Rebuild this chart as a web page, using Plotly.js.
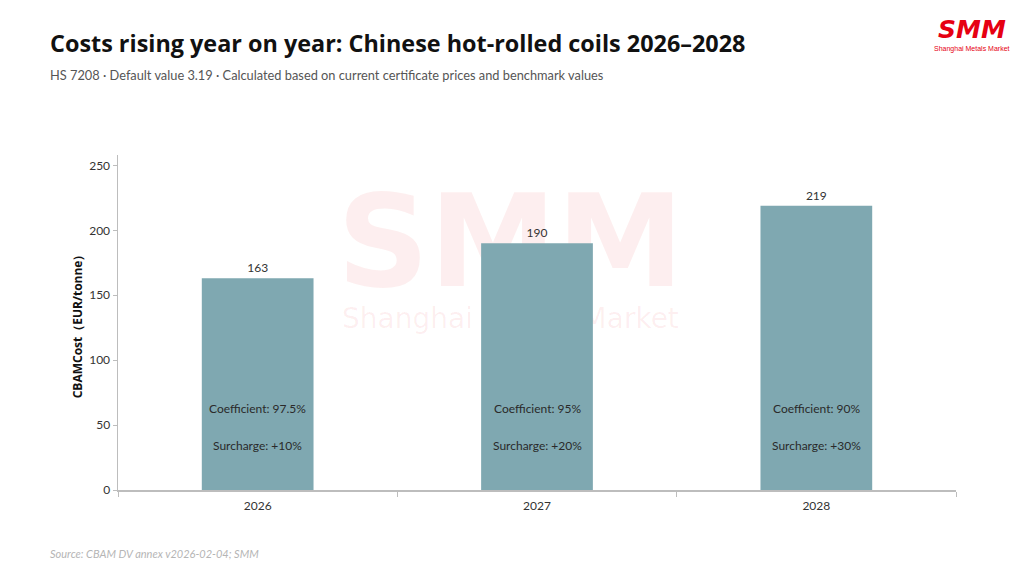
<!DOCTYPE html>
<html>
<head>
<meta charset="utf-8">
<script src="https://cdn.plot.ly/plotly-3.0.1.min.js"></script>
<style>
  html, body { margin: 0; padding: 0; background: #ffffff; }
  #chart { width: 1024px; height: 576px; }
</style>
</head>
<body>
<div id="chart"></div>
<script>
// ---- data ----
const years = ['2026', '2027', '2028'];
const cbamCost = [163, 190, 219];
const coefficientLabels = ['Coefficient: 97.5%', 'Coefficient: 95%', 'Coefficient: 90%'];
const surchargeLabels = ['Surcharge: +10%', 'Surcharge: +20%', 'Surcharge: +30%'];
const yTickValues = [0, 50, 100, 150, 200, 250];

const titleText = 'Costs rising year on year: Chinese hot-rolled coils 2026–2028';
const subtitleText = 'HS 7208 · Default value 3.19 · Calculated based on current certificate prices and benchmark values';
const sourceText = 'Source: CBAM DV annex v2026-02-04; SMM';
const yTitle = 'CBAMCost（EUR/tonne）';

const FONT = 'Lato, "Noto Sans", Roboto, sans-serif';
const BOLD_FONT = '"Open Sans", Roboto, sans-serif';
const BAR_COLOR = '#7fa8b1';
const AXIS_COLOR = '#bdbdbd';

const xIndex = years.map((_, i) => i);
const boundaries = [-0.5].concat(xIndex.map(i => i + 0.5));

// watermark (base subplot, so the bars in the overlay subplot sit on top of it)
const watermark = {
  type: 'scatter', mode: 'text', xaxis: 'x', yaxis: 'y',
  x: [0.905, 0.905], y: [0.705, 0.505],
  text: ['<b>SMM</b>', 'Shanghai Metals Market'],
  textfont: { family: '"DejaVu Sans", sans-serif', size: [128, 28], color: 'rgba(230,0,18,0.065)' },
  textposition: 'middle center', hoverinfo: 'skip', showlegend: false, cliponaxis: false
};

const bars = {
  type: 'bar', xaxis: 'x', yaxis: 'y2',
  x: xIndex, y: cbamCost,
  width: 0.4,
  marker: { color: BAR_COLOR, line: { width: 0 } },
  text: cbamCost.map(String),
  textposition: 'outside',
  textfont: { family: FONT, size: 12, color: '#333333' },
  cliponaxis: false,
  hoverinfo: 'y', showlegend: false
};

const annotations = [];
xIndex.forEach((xi, i) => {
  annotations.push({ xref: 'x', yref: 'y2', x: xi, y: 63, text: coefficientLabels[i], showarrow: false,
    font: { family: FONT, size: 12, color: '#2a2a2a' } });
  annotations.push({ xref: 'x', yref: 'y2', x: xi, y: 34, text: surchargeLabels[i], showarrow: false,
    font: { family: FONT, size: 12, color: '#2a2a2a' } });
});
// y-axis title
annotations.push({ xref: 'paper', yref: 'paper', x: -0.048, y: 0.497, xanchor: 'center', yanchor: 'middle',
  textangle: -90, text: '<b>' + yTitle + '</b>', showarrow: false,
  font: { family: BOLD_FONT, size: 12, color: '#111111' } });
// subtitle
annotations.push({ xref: 'paper', yref: 'paper', x: -0.0835, y: 1.238, xanchor: 'left', yanchor: 'middle',
  text: subtitleText, showarrow: false, font: { family: FONT, size: 12.8, color: '#555555' } });
// source
annotations.push({ xref: 'paper', yref: 'paper', x: -0.0835, y: -0.19, xanchor: 'left', yanchor: 'middle',
  text: '<i>' + sourceText + '</i>', showarrow: false, font: { family: FONT, size: 11, color: '#b5b5b5' } });
// logo
annotations.push({ xref: 'paper', yref: 'paper', x: 1.0195, y: 1.374, xanchor: 'center', yanchor: 'middle',
  text: '<b><i>SMM</i></b>', showarrow: false, font: { family: '"DejaVu Sans", sans-serif', size: 25, color: '#e60012' } });
annotations.push({ xref: 'paper', yref: 'paper', x: 1.0195, y: 1.315, xanchor: 'center', yanchor: 'middle',
  text: 'Shanghai Metals Market', showarrow: false, font: { family: '"Liberation Sans", Arial, sans-serif', size: 7, color: '#e60012' } });

const layout = {
  width: 1024, height: 576,
  margin: { l: 118, r: 68, t: 155, b: 86 },
  paper_bgcolor: '#ffffff', plot_bgcolor: 'rgba(0,0,0,0)',
  font: { family: FONT, size: 12, color: '#333333' },
  title: {
    text: '<b>' + titleText + '</b>',
    x: 50 / 1024, xanchor: 'left', xref: 'container',
    y: 1 - 44 / 576, yanchor: 'middle', yref: 'container',
    font: { family: BOLD_FONT, size: 23.4, color: '#111111' }
  },
  showlegend: false,
  xaxis: {
    range: [-0.5, xIndex.length - 0.5], fixedrange: true,
    tickvals: xIndex, ticktext: years, ticks: '', ticklabelstandoff: 4,
    showline: true, linecolor: AXIS_COLOR, linewidth: 1.5,
    showgrid: false, zeroline: false,
    minor: { tickvals: boundaries, ticks: 'outside', ticklen: 5, tickcolor: AXIS_COLOR, tickwidth: 1, showgrid: false },
    tickfont: { family: FONT, size: 12, color: '#333333' }
  },
  yaxis: { range: [0, 1], visible: false, fixedrange: true },
  yaxis2: {
    overlaying: 'y', anchor: 'x', side: 'left',
    range: [0, 258], tickvals: yTickValues,
    showline: true, linecolor: AXIS_COLOR, linewidth: 1.5,
    ticks: 'outside', ticklen: 4, tickcolor: AXIS_COLOR,
    showgrid: false, zeroline: false,
    tickfont: { family: FONT, size: 12, color: '#333333' }
  },
  annotations: annotations
};

Plotly.newPlot('chart', [watermark, bars], layout, { displayModeBar: false, staticPlot: true });
</script>
</body>
</html>
